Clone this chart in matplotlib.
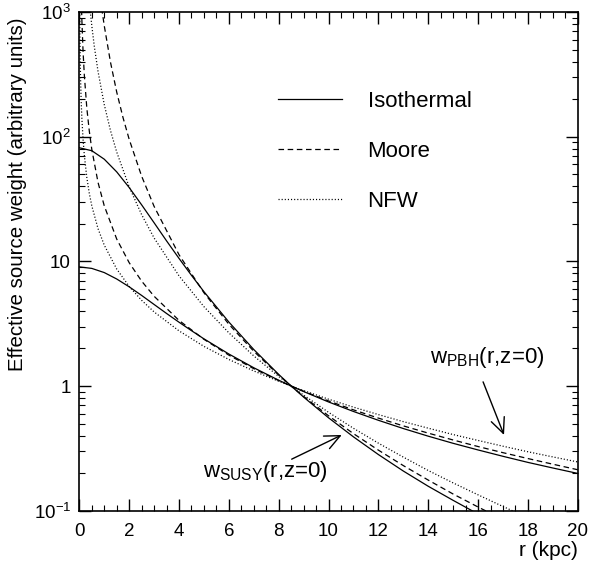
import matplotlib
matplotlib.use('Agg')
import matplotlib.pyplot as plt
from matplotlib.ticker import MultipleLocator, LogLocator, NullFormatter

plt.rcParams['font.family'] = ['Liberation Sans', 'DejaVu Sans']
plt.rcParams['mathtext.fontset'] = 'custom'
plt.rcParams['mathtext.rm'] = 'Liberation Sans'
plt.rcParams['mathtext.it'] = 'Liberation Sans:italic'
plt.rcParams['mathtext.bf'] = 'Liberation Sans:bold'
plt.rcParams['lines.scale_dashes'] = False

# --- data (weights normalised to 1 at r = 8.5 kpc) ---
r_iso = [0, 0.5, 1, 1.5, 2, 2.5, 3, 3.5, 4, 4.5, 5, 6, 7, 8, 8.5, 9, 10,
         11, 12, 13, 14, 15, 16, 17, 18, 19, 20]
iso_pbh = [9.03, 8.78, 8.13, 7.22, 6.25, 5.33, 4.51, 3.82, 3.25, 2.78, 2.39,
           1.806, 1.401, 1.113, 1.0, 0.903, 0.745, 0.625, 0.531, 0.456,
           0.396, 0.347, 0.307, 0.273, 0.244, 0.220, 0.199]
iso_susy = [81.5, 77.2, 66.0, 52.2, 39.1, 28.4, 20.4, 14.6, 10.56, 7.72,
            5.71, 3.26, 1.962, 1.239, 1.0, 0.815, 0.556, 0.391, 0.282,
            0.208, 0.157, 0.121, 0.094, 0.074, 0.060, 0.048, 0.040]

r_moore_pbh = [0.08, 0.1, 0.15, 0.2, 0.3, 0.4, 0.5, 0.75, 1, 1.5, 2, 2.5, 3,
               4, 5, 6, 7, 8, 8.5, 9, 10, 11, 12, 13, 14, 15, 16, 17, 18,
               19, 20]
moore_pbh = [1238, 886, 482, 313, 170, 111, 79.1, 43.0, 27.9, 15.1, 9.76,
             6.94, 5.25, 3.36, 2.37, 1.769, 1.378, 1.106, 1.0, 0.908, 0.759,
             0.644, 0.553, 0.479, 0.419, 0.369, 0.327, 0.292, 0.262, 0.236,
             0.213]
r_moore_susy = [0.75, 0.85, 0.9, 1, 1.25, 1.5, 1.75, 2, 2.5, 3, 4, 5, 6, 7,
                8, 8.5, 9, 10, 11, 12, 13, 14, 15, 16, 17, 18, 19, 20]
moore_susy = [1848, 1268, 1067, 777, 396, 228, 143, 95.3, 48.2, 27.6, 11.3,
              5.60, 3.13, 1.90, 1.224, 1.0, 0.825, 0.577, 0.415, 0.306,
              0.230, 0.176, 0.136, 0.107, 0.085, 0.068, 0.055, 0.045]

r_nfw_pbh = [0.01, 0.02, 0.03, 0.05, 0.075, 0.1, 0.15, 0.2, 0.3, 0.4, 0.5,
             0.75, 1, 1.5, 2, 2.5, 3, 4, 5, 6, 7, 8, 8.5, 9, 10, 11, 12, 13,
             14, 15, 16, 17, 18, 19, 20]
nfw_pbh = [1444, 722, 480, 288, 192, 143, 95.3, 71.2, 47.1, 35.1, 27.9,
           18.3, 13.5, 8.68, 6.29, 4.87, 3.93, 2.77, 2.08, 1.633, 1.321,
           1.092, 1.0, 0.919, 0.784, 0.677, 0.590, 0.518, 0.459, 0.408,
           0.366, 0.329, 0.297, 0.270, 0.246]
r_nfw_susy = [0.3, 0.4, 0.45, 0.5, 0.6, 0.75, 1, 1.25, 1.5, 2, 2.5, 3, 4, 5,
              6, 7, 8, 8.5, 9, 10, 11, 12, 13, 14, 15, 16, 17, 18, 19, 20]
nfw_susy = [2221, 1232, 967, 777, 532, 334, 181, 112, 75.3, 39.6, 23.7,
            15.4, 7.65, 4.33, 2.67, 1.744, 1.193, 1.0, 0.845, 0.615, 0.458,
            0.348, 0.269, 0.210, 0.167, 0.134, 0.108, 0.088, 0.073, 0.060]

profile_names = ['Isothermal', 'Moore', 'NFW']
y_ticks = [0.1, 1, 10, 100, 1000]
y_tick_labels = [r'$\mathregular{10^{-1}}$', '1', '10',
                 r'$\mathregular{10^{2}}$', r'$\mathregular{10^{3}}$']
x_ticks = list(range(0, 21, 2))

solid = '-'
dashed = (0, (4.0, 2.6))
dotted = (0, (0.8, 1.45))
lw = 0.9

fig = plt.figure(figsize=(5.92, 5.67), dpi=100)
ax = fig.add_axes([0.134, 0.0993, 0.842, 0.8795])

h_iso, = ax.plot(r_iso, iso_susy, color='black', lw=lw, linestyle=solid)
ax.plot(r_iso, iso_pbh, color='black', lw=lw, linestyle=solid)
h_moore, = ax.plot(r_moore_susy, moore_susy, color='black', lw=lw, linestyle=dashed)
ax.plot(r_moore_pbh, moore_pbh, color='black', lw=lw, linestyle=dashed)
h_nfw, = ax.plot(r_nfw_susy, nfw_susy, color='black', lw=lw, linestyle=dotted)
ax.plot(r_nfw_pbh, nfw_pbh, color='black', lw=lw, linestyle=dotted)

ax.set_yscale('log')
ax.set_xlim(0, 20)
ax.set_ylim(0.1, 1000)

ax.set_xticks(x_ticks)
ax.xaxis.set_minor_locator(MultipleLocator(0.5))
ax.set_yticks(y_ticks, y_tick_labels)
ax.yaxis.set_minor_locator(LogLocator(base=10, subs=range(2, 10)))
ax.yaxis.set_minor_formatter(NullFormatter())

ax.tick_params(which='both', direction='in', top=True, right=True, color='black')
ax.tick_params(which='major', length=8.5, width=1.0, labelsize=13.5)
ax.tick_params(which='minor', length=4.3, width=0.8)
ax.tick_params(axis='x', pad=9)
ax.tick_params(axis='y', pad=6)
for sp in ax.spines.values():
    sp.set_linewidth(1.2)

ax.set_ylabel('Effective source weight (arbitrary units)', fontsize=14.75)
ax.yaxis.set_label_coords(-0.105, 0.635)
ax.set_xlabel('r (kpc)', fontsize=15, loc='right')
ax.xaxis.set_label_coords(1.0, -0.061)

ax.legend([h_iso, h_moore, h_nfw], profile_names, loc='upper left',
          bbox_to_anchor=(0.399, 0.842), frameon=False, borderpad=0,
          borderaxespad=0, handlelength=2.85, handletextpad=1.17,
          labelspacing=1.3, fontsize=16)

# labels with arrows
arrow = dict(arrowstyle='->,head_length=1.1,head_width=0.5', lw=1.0,
             color='black', mutation_scale=10, shrinkA=0, shrinkB=0)
ax.text(16.35, 1.68, r'w$_{\mathregular{PBH}}$(r,z=0)', fontsize=16,
        ha='center', va='center')
ax.annotate('', xy=(17.04, 0.405), xytext=(16.2, 1.08), arrowprops=arrow)
ax.text(7.47, 0.205, r'w$_{\mathregular{SUSY}}$(r,z=0)', fontsize=16,
        ha='center', va='center')
ax.annotate('', xy=(10.53, 0.405), xytext=(8.52, 0.259), arrowprops=arrow)

fig.savefig('out.png', dpi=100)
